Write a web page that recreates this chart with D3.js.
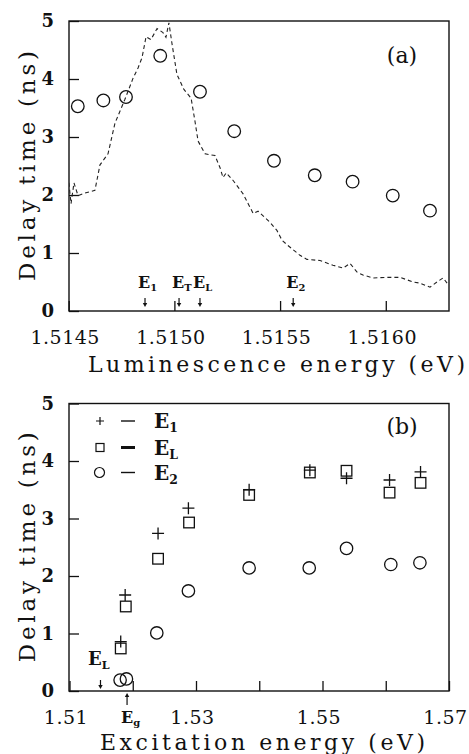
<!DOCTYPE html>
<html>
<head>
<meta charset="utf-8">
<script src="https://cdn.jsdelivr.net/npm/d3@7"></script>
<style>
  body { margin: 0; background: #fff; }
  text { font-family: "DejaVu Serif", serif; fill: #111; }
</style>
</head>
<body>
<svg id="chart" width="469" height="754"></svg>
<script>
// panel (a): delay time vs luminescence energy
var lumEnergy = [1.514543, 1.514664, 1.514771, 1.514933, 1.515121, 1.515283, 1.515471, 1.515664, 1.515843, 1.516033, 1.516209];
var lumDelay = [3.53, 3.63, 3.69, 4.40, 3.78, 3.10, 2.59, 2.34, 2.23, 1.99, 1.73];

// luminescence spectrum (dashed), in units of the delay axis
var specEnergy = [1.514501, 1.514511, 1.514525, 1.514544, 1.514582, 1.514624, 1.514648, 1.514686, 1.514719, 1.514766,
  1.514804, 1.514828, 1.514847, 1.514866, 1.514889, 1.514918, 1.514946, 1.514960, 1.514974, 1.514989,
  1.515012, 1.515045, 1.515079, 1.515097, 1.515112, 1.515145, 1.515192, 1.515216, 1.515230, 1.515245,
  1.515278, 1.515325, 1.515349, 1.515373, 1.515396, 1.515429, 1.515452, 1.515485, 1.515509, 1.515537,
  1.515594, 1.515627, 1.515689, 1.515750, 1.515798, 1.515831, 1.515864, 1.515892, 1.515940, 1.516006,
  1.516068, 1.516129, 1.516162, 1.516209, 1.516242, 1.516271, 1.516290];
var specIntensity = [2.21, 1.85, 2.21, 1.99, 2.04, 2.08, 2.52, 2.71, 3.24, 3.65,
  4.01, 4.19, 4.37, 4.73, 4.68, 4.87, 4.80, 4.72, 4.97, 4.60,
  4.08, 3.82, 3.67, 3.28, 2.93, 2.71, 2.68, 2.47, 2.30, 2.38,
  2.25, 2.02, 1.85, 1.68, 1.72, 1.61, 1.53, 1.39, 1.22, 1.13,
  0.96, 0.89, 0.87, 0.79, 0.74, 0.82, 0.67, 0.62, 0.57, 0.58,
  0.58, 0.50, 0.48, 0.41, 0.50, 0.57, 0.48];

var markEnergyA = [1.514861, 1.515022, 1.515121, 1.515562];
var markSubA = ["1", "T", "L", "2"];

var xTicksA = [1.5145, 1.5150, 1.5155, 1.5160];
var xLabelsA = ["1.5145", "1.5150", "1.5155", "1.5160"];

// panel (b): delay time vs excitation energy
var e1Energy = [1.5181, 1.5188, 1.5240, 1.5288, 1.5384, 1.5480, 1.5538, 1.5606, 1.5655];
var e1Delay = [0.86, 1.67, 2.74, 3.18, 3.50, 3.84, 3.70, 3.67, 3.81];
var eLEnergy = [1.5181, 1.5189, 1.5240, 1.5289, 1.5384, 1.5480, 1.5538, 1.5606, 1.5655];
var eLDelay = [0.74, 1.47, 2.30, 2.93, 3.41, 3.80, 3.83, 3.45, 3.62];
var e2Energy = [1.5180, 1.5190, 1.5238, 1.5288, 1.5384, 1.5479, 1.5538, 1.5608, 1.5654];
var e2Delay = [0.19, 0.21, 1.01, 1.74, 2.14, 2.14, 2.48, 2.20, 2.23];

var xTicksB = [1.51, 1.52, 1.53, 1.54, 1.55, 1.56, 1.57];
var xLabelsB = ["1.51", "", "1.53", "", "1.55", "", "1.57"];
var legendSub = ["1", "L", "2"];
var markEnergyEL = 1.5149;
var markEnergyEg = 1.5191;

var yTicks = [0, 1, 2, 3, 4, 5];

var svg = d3.select("#chart");
svg.append("rect").attr("width", 469).attr("height", 754).attr("fill", "#fff");

var xA = d3.scaleLinear().domain([1.5145, 1.5163]).range([68.7, 449.2]);
var yA = d3.scaleLinear().domain([0, 5]).range([311, 21]);
var xB = d3.scaleLinear().domain([1.51, 1.57]).range([69.5, 449]);
var yB = d3.scaleLinear().domain([0, 5]).range([691, 403.5]);

function drawFrame(x, y, xTicks, xLabels, title, titleLen) {
  var g = svg.append("g");
  var x0 = 69, x1 = 449, y0 = y.range()[0], y1 = y.range()[1];

  g.append("g")
    .attr("transform", "translate(0," + y0 + ")")
    .call(d3.axisBottom(x).tickValues(xTicks).tickSizeInner(-10).tickSizeOuter(0).tickPadding(20)
      .tickFormat(function (d, i) { return xLabels[i]; }))
    .call(function (a) {
      a.select(".domain").remove();
      a.selectAll("line").attr("stroke", "#111").attr("stroke-width", 1.3);
      a.selectAll("text").attr("font-size", 19).attr("dx", -4).attr("letter-spacing", 0.5)
        .attr("font-family", "DejaVu Serif");
    });

  g.append("g")
    .attr("transform", "translate(" + x0 + ",0)")
    .call(d3.axisLeft(y).tickValues(yTicks).tickSizeInner(-10).tickSizeOuter(0).tickPadding(15)
      .tickFormat(d3.format("d")))
    .call(function (a) {
      a.select(".domain").remove();
      a.selectAll("line").attr("stroke", "#111").attr("stroke-width", 1.3);
      a.selectAll("text").attr("font-size", 18).attr("font-weight", "bold").attr("font-family", "DejaVu Serif");
    });

  g.append("rect")
    .attr("x", x0).attr("y", y1)
    .attr("width", x1 - x0).attr("height", y0 - y1)
    .attr("fill", "none").attr("stroke", "#111").attr("stroke-width", 1.4);

  // axis titles
  g.append("text")
    .attr("x", title.x).attr("y", title.y)
    .attr("font-size", 22)
    .attr("textLength", titleLen).attr("lengthAdjust", "spacing")
    .text(title.text);

  var cy = (y0 + y1) / 2;
  g.append("text")
    .attr("transform", "translate(35," + (cy + 115) + ") rotate(-90)")
    .attr("font-size", 23)
    .attr("textLength", 230).attr("lengthAdjust", "spacing")
    .text("Delay time (ns)");
}

function subLabel(x, y, sub, size) {
  var t = svg.append("text").attr("x", x).attr("y", y).attr("font-weight", "bold").attr("font-size", size);
  t.append("tspan").text("E");
  t.append("tspan").attr("dy", size * 0.2).attr("font-size", size * 0.62).text(sub);
  return t;
}

function arrow(x, yTail, yHead) {
  var dir = yHead > yTail ? 1 : -1;
  svg.append("line")
    .attr("x1", x).attr("x2", x).attr("y1", yTail).attr("y2", yHead - dir * 3)
    .attr("stroke", "#111").attr("stroke-width", 1.2);
  svg.append("path")
    .attr("d", "M" + (x - 2.2) + "," + (yHead - dir * 4) + "L" + (x + 2.2) + "," + (yHead - dir * 4) + "L" + x + "," + yHead + "Z")
    .attr("fill", "#111");
}

// ---------- panel (a) ----------
drawFrame(xA, yA, xTicksA, xLabelsA, {x: 88, y: 372, text: "Luminescence energy (eV)"}, 377);

svg.append("clipPath").attr("id", "clipA")
  .append("rect").attr("x", 69).attr("y", 19).attr("width", 380).attr("height", 292);

var spec = d3.range(specEnergy.length).map(function (i) { return [specEnergy[i], specIntensity[i]]; });
svg.append("path")
  .datum(spec)
  .attr("clip-path", "url(#clipA)")
  .attr("fill", "none")
  .attr("stroke", "#222")
  .attr("stroke-width", 1.1)
  .attr("stroke-dasharray", "4,3")
  .attr("d", d3.line().x(function (d) { return xA(d[0]); }).y(function (d) { return yA(d[1]); }));

svg.append("g").selectAll("circle")
  .data(lumEnergy)
  .enter().append("circle")
  .attr("cx", function (d) { return xA(d); })
  .attr("cy", function (d, i) { return yA(lumDelay[i]); })
  .attr("r", 6.3)
  .attr("fill", "none").attr("stroke", "#111").attr("stroke-width", 1.3);

markEnergyA.forEach(function (e, i) {
  var px = xA(e);
  subLabel(px - 7, 288, markSubA[i], 16);
  arrow(px, 298, 307);
});

svg.append("text").attr("x", 402).attr("y", 63).attr("text-anchor", "middle")
  .attr("font-size", 22).text("(a)");

// ---------- panel (b) ----------
drawFrame(xB, yB, xTicksB, xLabelsB, {x: 100, y: 750, text: "Excitation energy (eV)"}, 325);

var gB = svg.append("g").attr("fill", "none").attr("stroke", "#111").attr("stroke-width", 1.3);

gB.selectAll(".plus")
  .data(e1Energy)
  .enter().append("path")
  .attr("class", "plus")
  .attr("d", function (d, i) {
    var cx = xB(d), cy = yB(e1Delay[i]);
    return "M" + (cx - 6) + "," + cy + "H" + (cx + 6) + "M" + cx + "," + (cy - 6) + "V" + (cy + 6);
  });

gB.selectAll(".sq")
  .data(eLEnergy)
  .enter().append("rect")
  .attr("class", "sq")
  .attr("x", function (d) { return xB(d) - 5.3; })
  .attr("y", function (d, i) { return yB(eLDelay[i]) - 5.3; })
  .attr("width", 10.6).attr("height", 10.6);

gB.selectAll(".circ")
  .data(e2Energy)
  .enter().append("circle")
  .attr("class", "circ")
  .attr("cx", function (d) { return xB(d); })
  .attr("cy", function (d, i) { return yB(e2Delay[i]); })
  .attr("r", 6.2);

// legend
var legY = [421, 447.5, 472.5];
var legWidth = [1.4, 3, 1.4];
svg.append("path")
  .attr("d", "M96,421H104M100,417V425")
  .attr("stroke", "#111").attr("stroke-width", 1.2).attr("fill", "none");
svg.append("rect").attr("x", 96).attr("y", legY[1] - 4).attr("width", 8).attr("height", 8)
  .attr("fill", "none").attr("stroke", "#111").attr("stroke-width", 1.2);
svg.append("circle").attr("cx", 99.5).attr("cy", legY[2]).attr("r", 5)
  .attr("fill", "none").attr("stroke", "#111").attr("stroke-width", 1.2);
legY.forEach(function (y, i) {
  svg.append("line").attr("x1", 121).attr("x2", 135).attr("y1", y).attr("y2", y)
    .attr("stroke", "#111").attr("stroke-width", legWidth[i]);
  subLabel(154, y + 7, legendSub[i], 20);
});

subLabel(88, 665, "L", 18);
arrow(xB(markEnergyEL), 680, 689);
subLabel(xB(markEnergyEg) - 6, 723, "g", 16);
arrow(xB(markEnergyEg), 705, 693);

svg.append("text").attr("x", 402).attr("y", 434).attr("text-anchor", "middle")
  .attr("font-size", 22).text("(b)");
</script>
</body>
</html>
